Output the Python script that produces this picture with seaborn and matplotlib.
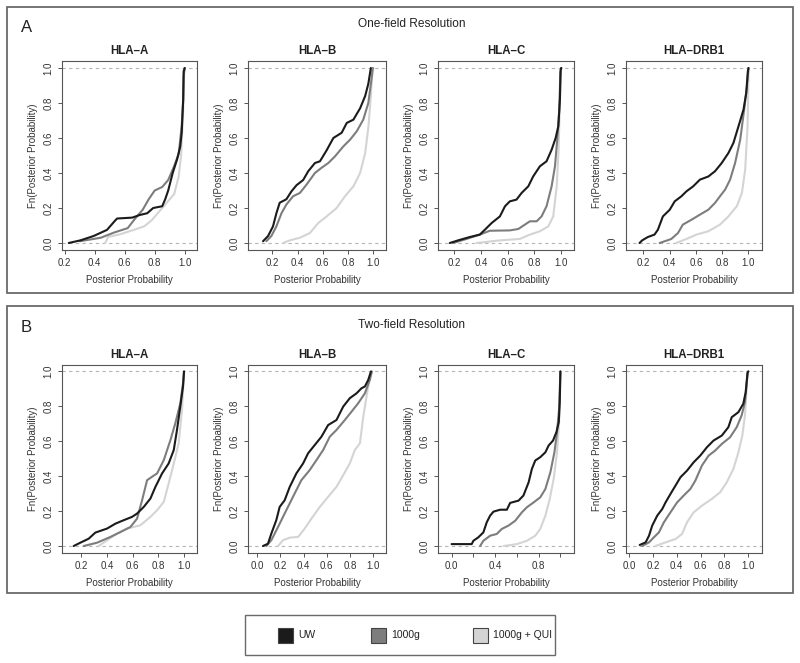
import numpy as np
import pandas as pd
import seaborn as sns
import matplotlib
matplotlib.use("Agg")
import matplotlib.pyplot as plt
from matplotlib.patches import Rectangle

sns.set_theme(style="white")
plt.rcParams['font.family'] = ['Liberation Sans', 'DejaVu Sans']

#%% data: (posterior probability, Fn) points per curve
series = ["UW", "1000g", "1000g + QUI"]
loci = ["HLA\u2013A", "HLA\u2013B", "HLA\u2013C", "HLA\u2013DRB1"]

# One-field resolution
one_a_uw = [(0.227, 0.0), (0.304, 0.015), (0.393, 0.04), (0.482, 0.075), (0.538, 0.13), (0.55, 0.14),
            (0.65, 0.145), (0.70, 0.16), (0.75, 0.17), (0.79, 0.20), (0.85, 0.21), (0.87, 0.25),
            (0.89, 0.30), (0.92, 0.40), (0.95, 0.48), (0.97, 0.55), (0.98, 0.63), (0.99, 0.82),
            (0.993, 0.98), (1.0, 1.0)]
one_a_1kg = [(0.30, 0.01), (0.44, 0.03), (0.53, 0.06), (0.62, 0.085), (0.67, 0.14), (0.72, 0.19),
             (0.76, 0.25), (0.80, 0.30), (0.85, 0.32), (0.89, 0.36), (0.93, 0.44), (0.96, 0.51),
             (0.98, 0.67), (0.99, 0.82), (0.993, 0.95), (1.0, 1.0)]
one_a_qui = [(0.47, 0.0), (0.49, 0.035), (0.57, 0.05), (0.66, 0.075), (0.73, 0.095), (0.78, 0.13),
             (0.84, 0.19), (0.88, 0.23), (0.93, 0.28), (0.96, 0.38), (0.976, 0.50), (0.99, 0.76),
             (0.995, 0.99), (1.0, 1.0)]

one_b_uw = [(0.126, 0.01), (0.166, 0.04), (0.205, 0.095), (0.232, 0.17), (0.258, 0.23), (0.311, 0.25),
            (0.351, 0.295), (0.391, 0.33), (0.444, 0.36), (0.484, 0.41), (0.537, 0.457), (0.577, 0.467),
            (0.63, 0.53), (0.683, 0.60), (0.749, 0.63), (0.789, 0.686), (0.842, 0.705), (0.895, 0.77),
            (0.935, 0.84), (0.96, 0.91), (0.98, 1.0)]
one_b_1kg = [(0.152, 0.01), (0.192, 0.04), (0.232, 0.095), (0.272, 0.17), (0.311, 0.22), (0.364, 0.267),
             (0.418, 0.286), (0.47, 0.333), (0.537, 0.40), (0.59, 0.43), (0.643, 0.457), (0.696, 0.495),
             (0.762, 0.552), (0.815, 0.59), (0.868, 0.638), (0.92, 0.705), (0.96, 0.80), (0.988, 0.952),
             (0.996, 1.0)]
one_b_qui = [(0.285, 0.0), (0.338, 0.015), (0.418, 0.03), (0.497, 0.057), (0.563, 0.114), (0.63, 0.152),
             (0.709, 0.20), (0.775, 0.267), (0.842, 0.324), (0.895, 0.40), (0.935, 0.514), (0.961, 0.667),
             (0.98, 0.838), (0.993, 0.99), (1.0, 1.0)]

one_c_uw = [(0.168, 0.0), (0.23, 0.015), (0.317, 0.034), (0.392, 0.048), (0.43, 0.076), (0.48, 0.114),
            (0.542, 0.152), (0.58, 0.21), (0.616, 0.238), (0.666, 0.248), (0.704, 0.286), (0.754, 0.324),
            (0.79, 0.38), (0.84, 0.438), (0.89, 0.467), (0.928, 0.533), (0.958, 0.60), (0.978, 0.667),
            (0.99, 0.82), (0.995, 0.99), (1.0, 1.0)]
one_c_1kg = [(0.193, 0.0), (0.292, 0.023), (0.392, 0.048), (0.467, 0.07), (0.616, 0.072), (0.679, 0.08),
             (0.766, 0.124), (0.816, 0.124), (0.853, 0.152), (0.89, 0.21), (0.928, 0.324), (0.953, 0.438),
             (0.97, 0.59), (0.985, 0.762), (0.993, 0.97), (1.0, 1.0)]
one_c_qui = [(0.367, 0.0), (0.542, 0.015), (0.69, 0.023), (0.766, 0.048), (0.84, 0.067), (0.903, 0.095),
             (0.94, 0.152), (0.966, 0.324), (0.98, 0.533), (0.99, 0.82), (0.998, 0.99), (1.0, 1.0)]

one_d_uw = [(0.17, 0.0), (0.19, 0.015), (0.233, 0.034), (0.284, 0.048), (0.31, 0.076), (0.348, 0.152),
            (0.40, 0.19), (0.438, 0.238), (0.489, 0.267), (0.527, 0.295), (0.579, 0.324), (0.63, 0.362),
            (0.694, 0.38), (0.745, 0.41), (0.796, 0.457), (0.847, 0.514), (0.885, 0.571), (0.924, 0.667),
            (0.962, 0.762), (0.983, 0.857), (0.995, 0.98), (1.0, 1.0)]
one_d_1kg = [(0.323, 0.0), (0.412, 0.023), (0.463, 0.057), (0.50, 0.105), (0.566, 0.133), (0.63, 0.162),
             (0.694, 0.19), (0.745, 0.229), (0.783, 0.267), (0.822, 0.305), (0.86, 0.362), (0.898, 0.457),
             (0.937, 0.59), (0.967, 0.762), (0.988, 0.895), (0.998, 0.98), (1.0, 1.0)]
one_d_qui = [(0.45, 0.0), (0.527, 0.023), (0.604, 0.048), (0.694, 0.067), (0.783, 0.105), (0.847, 0.152),
             (0.911, 0.21), (0.95, 0.286), (0.975, 0.42), (0.993, 0.667), (1.0, 0.952), (1.0, 1.0)]

# Two-field resolution
two_a_uw = [(0.14, 0.0), (0.192, 0.019), (0.257, 0.042), (0.309, 0.077), (0.40, 0.10), (0.465, 0.128),
            (0.53, 0.148), (0.595, 0.167), (0.634, 0.186), (0.686, 0.224), (0.738, 0.272), (0.777, 0.339),
            (0.829, 0.416), (0.88, 0.473), (0.92, 0.55), (0.945, 0.665), (0.971, 0.80), (0.992, 0.914),
            (1.0, 1.0)]
two_a_1kg = [(0.218, 0.0), (0.322, 0.019), (0.426, 0.052), (0.504, 0.08), (0.582, 0.109), (0.634, 0.157),
             (0.673, 0.262), (0.712, 0.377), (0.751, 0.397), (0.79, 0.416), (0.842, 0.492), (0.894, 0.607),
             (0.932, 0.703), (0.971, 0.818), (0.992, 0.933), (1.0, 1.0)]
two_a_qui = [(0.335, 0.0), (0.40, 0.033), (0.478, 0.071), (0.556, 0.10), (0.66, 0.119), (0.738, 0.167),
             (0.79, 0.205), (0.842, 0.253), (0.88, 0.358), (0.92, 0.473), (0.958, 0.588), (0.984, 0.78),
             (1.0, 1.0)]

two_b_uw = [(0.049, 0.0), (0.092, 0.013), (0.121, 0.071), (0.164, 0.148), (0.193, 0.224), (0.236, 0.262),
            (0.28, 0.339), (0.337, 0.416), (0.395, 0.473), (0.438, 0.531), (0.496, 0.579), (0.553, 0.626),
            (0.611, 0.693), (0.683, 0.722), (0.741, 0.799), (0.798, 0.847), (0.856, 0.875), (0.899, 0.904),
            (0.928, 0.914), (0.957, 0.952), (0.98, 1.0)]
two_b_1kg = [(0.078, 0.0), (0.121, 0.033), (0.179, 0.109), (0.236, 0.186), (0.308, 0.282), (0.38, 0.377),
             (0.452, 0.435), (0.51, 0.492), (0.568, 0.55), (0.625, 0.626), (0.683, 0.665), (0.755, 0.722),
             (0.813, 0.77), (0.87, 0.818), (0.928, 0.875), (0.971, 0.952), (0.988, 1.0)]
two_b_qui = [(0.179, 0.0), (0.222, 0.033), (0.28, 0.048), (0.352, 0.052), (0.409, 0.10), (0.467, 0.157),
             (0.539, 0.224), (0.611, 0.282), (0.683, 0.339), (0.741, 0.406), (0.798, 0.473), (0.841, 0.55),
             (0.885, 0.588), (0.914, 0.741), (0.942, 0.856), (0.971, 0.971), (0.988, 1.0)]

two_c_uw = [(0.0, 0.011), (0.185, 0.011), (0.20, 0.03), (0.246, 0.05), (0.292, 0.078), (0.323, 0.136),
            (0.354, 0.174), (0.385, 0.197), (0.446, 0.208), (0.508, 0.208), (0.538, 0.247), (0.615, 0.26),
            (0.66, 0.289), (0.708, 0.365), (0.738, 0.442), (0.769, 0.49), (0.815, 0.509), (0.862, 0.537),
            (0.892, 0.576), (0.932, 0.604), (0.963, 0.652), (0.985, 0.709), (0.994, 0.824), (1.0, 1.0)]
two_c_1kg = [(0.262, 0.0), (0.292, 0.03), (0.354, 0.059), (0.415, 0.069), (0.462, 0.098), (0.523, 0.117),
             (0.585, 0.145), (0.646, 0.193), (0.692, 0.222), (0.754, 0.25), (0.815, 0.279), (0.862, 0.327),
             (0.908, 0.423), (0.945, 0.537), (0.969, 0.652), (0.988, 0.786), (1.0, 1.0)]
two_c_qui = [(0.477, 0.0), (0.60, 0.011), (0.692, 0.03), (0.769, 0.059), (0.815, 0.098), (0.862, 0.174),
             (0.902, 0.27), (0.938, 0.384), (0.969, 0.537), (0.988, 0.709), (1.0, 0.977), (1.0, 1.0)]

two_d_uw = [(0.089, 0.006), (0.139, 0.021), (0.167, 0.059), (0.194, 0.117), (0.236, 0.174), (0.278, 0.212),
            (0.306, 0.25), (0.347, 0.298), (0.389, 0.346), (0.431, 0.394), (0.486, 0.432), (0.542, 0.48),
            (0.597, 0.518), (0.653, 0.566), (0.708, 0.604), (0.778, 0.633), (0.833, 0.681), (0.861, 0.738),
            (0.917, 0.767), (0.958, 0.815), (0.978, 0.881), (0.994, 0.996), (1.0, 1.0)]
two_d_1kg = [(0.111, 0.0), (0.167, 0.021), (0.208, 0.05), (0.25, 0.078), (0.292, 0.136), (0.347, 0.193),
             (0.403, 0.25), (0.458, 0.289), (0.514, 0.327), (0.556, 0.375), (0.611, 0.461), (0.667, 0.518),
             (0.722, 0.547), (0.778, 0.585), (0.847, 0.623), (0.903, 0.681), (0.944, 0.748), (0.972, 0.824),
             (0.994, 0.987), (1.0, 1.0)]
two_d_qui = [(0.222, 0.0), (0.306, 0.021), (0.389, 0.04), (0.444, 0.069), (0.486, 0.136), (0.542, 0.193),
             (0.611, 0.231), (0.694, 0.27), (0.764, 0.308), (0.819, 0.365), (0.875, 0.442), (0.917, 0.537),
             (0.95, 0.633), (0.972, 0.748), (0.992, 0.977), (1.0, 1.0)]

# x ranges and ticks of each panel
one_xlims = [(0.182, 1.082), (0.007, 1.10), (0.08, 1.095), (0.067, 1.103)]
two_xlims = [(0.049, 1.101), (-0.08, 1.11), (-0.125, 1.125), (-0.026, 1.115)]
one_xticks = [[0.2, 0.4, 0.6, 0.8, 1.0]] * 4
two_xticks = [[0.2, 0.4, 0.6, 0.8, 1.0], [0.0, 0.2, 0.4, 0.6, 0.8, 1.0],
              [0.0, 0.2, 0.4, 0.6, 0.8, 1.0], [0.0, 0.2, 0.4, 0.6, 0.8, 1.0]]
two_c_labels = ["0.0", "", "0.4", "", "0.8", ""]  # R dropped the crowded labels

colors = {"UW": "#1b1b1b", "1000g": "#7d7d7d", "1000g + QUI": "#d4d4d4"}

#%% layout helpers (pixel positions in an 800x663 canvas)
W, H = 800, 663
fig = plt.figure(figsize=(W / 100, H / 100), dpi=100)

def fx(px):
    return px / W

def fy(py):
    return 1 - py / H

def add_frame(x0, y0, x1, y1, lw=1.3):
    fig.add_artist(Rectangle((fx(x0), fy(y1)), fx(x1 - x0), (y1 - y0) / H, transform=fig.transFigure,
                             fill=False, edgecolor="#6a6a6a", linewidth=lw))

def make_df(curves):
    frames = []
    for name, pts in zip(series, curves):
        d = pd.DataFrame(pts, columns=["x", "Fn"])
        d["series"] = name
        frames.append(d)
    return pd.concat(frames, ignore_index=True)

lefts = [62, 248, 438, 626]
rights = [197, 386, 574, 762]

def draw_panel(top, bottom, panel_curves, xlims, xticks, row):
    for i in range(4):
        ax = fig.add_axes([fx(lefts[i]), fy(bottom), fx(rights[i] - lefts[i]), (bottom - top) / H])
        ax.axhline(0, color="#b5b5b5", lw=0.8, ls=(0, (3, 3)), zorder=1)
        ax.axhline(1, color="#b5b5b5", lw=0.8, ls=(0, (3, 3)), zorder=1)
        df = make_df(panel_curves[i])
        # light first so the darker curves sit on top
        for name in series[::-1]:
            sns.lineplot(data=df[df.series == name], x="x", y="Fn", color=colors[name],
                         lw=1.5, sort=False, estimator=None, ax=ax, zorder=3)
        ax.set_xlim(*xlims[i])
        ax.set_ylim(-0.04, 1.04)
        ax.set_xticks(xticks[i])
        if row == 2 and i == 2:
            ax.set_xticklabels(two_c_labels)
        else:
            ax.set_xticklabels(["%.1f" % t for t in xticks[i]])
        ax.set_yticks([0, 0.2, 0.4, 0.6, 0.8, 1.0])
        ax.set_yticklabels(["0.0", "0.2", "0.4", "0.6", "0.8", "1.0"], rotation=90, va="center")
        ax.tick_params(axis="both", direction="out", length=3, width=0.7, color="#555555",
                       labelsize=7, labelcolor="#333333", pad=3, bottom=True, left=True)
        for sp in ax.spines.values():
            sp.set_color("#555555")
            sp.set_linewidth(0.8)
        ax.set_xlabel("Posterior Probability", fontsize=7, color="#333333", labelpad=5)
        ax.set_ylabel("Fn(Posterior Probability)", fontsize=7, color="#333333", labelpad=4)
        ax.set_title(loci[i], fontsize=8.3, fontweight="bold", color="#222222", pad=5)

#%% panel A and B
add_frame(7, 7, 793, 293)
add_frame(7, 306, 793, 593)
fig.text(fx(21), fy(28), "A", fontsize=12, color="#222222", ha="left", va="center")
fig.text(fx(412), fy(24), "One-field Resolution", fontsize=8.6, color="#222222", ha="center", va="center")
fig.text(fx(21), fy(328), "B", fontsize=12, color="#222222", ha="left", va="center")
fig.text(fx(412), fy(325), "Two-field Resolution", fontsize=8.6, color="#222222", ha="center", va="center")

draw_panel(61, 250, [[one_a_uw, one_a_1kg, one_a_qui], [one_b_uw, one_b_1kg, one_b_qui],
                     [one_c_uw, one_c_1kg, one_c_qui], [one_d_uw, one_d_1kg, one_d_qui]],
           one_xlims, one_xticks, 1)
draw_panel(364.5, 553, [[two_a_uw, two_a_1kg, two_a_qui], [two_b_uw, two_b_1kg, two_b_qui],
                        [two_c_uw, two_c_1kg, two_c_qui], [two_d_uw, two_d_1kg, two_d_qui]],
           two_xlims, two_xticks, 2)

#%% legend box
add_frame(245, 615, 555, 655, lw=1.0)
sq_x = [278, 371, 473]
for x0, name in zip(sq_x, series):
    fig.add_artist(Rectangle((fx(x0), fy(643)), fx(15), 15 / H, transform=fig.transFigure,
                             facecolor=colors[name], edgecolor="#444444", linewidth=0.8))
    fig.text(fx(x0 + 20), fy(635.5), name, fontsize=7.5, color="#222222", ha="left", va="center")

plt.savefig("out.png", dpi=100)
